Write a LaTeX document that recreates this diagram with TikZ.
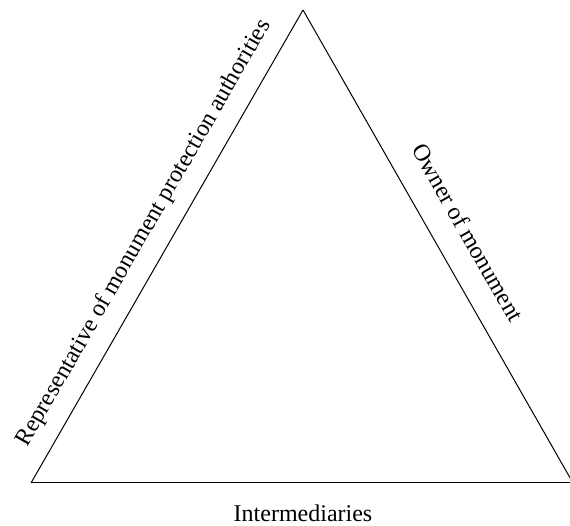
\documentclass[tikz,border=0pt]{standalone}
\usepackage{fontspec}
\setmainfont{Liberation Serif}
\usepackage{tikz}
\usetikzlibrary{calc, positioning}

\begin{document}
\begin{tikzpicture}[x=1pt, y=1pt, line width=1pt,
    role/.style={font=\fontsize{24}{28}\selectfont, inner sep=0pt}]
    \useasboundingbox (0,0) rectangle (570,526);

    % Ecken des Dreiecks
    \coordinate (top) at (303,516);
    \coordinate (left) at (31,43);
    \coordinate (right) at (573,43);

    % Dreieck mit Beschriftung der Seiten
    \draw (left) -- (top)
        node[role, midway, sloped, above=15pt] (authority) {Representative of monument protection authorities};
    \draw (top) -- (right)
        node[role, pos=0.505, sloped, above=24pt] (owner) {Owner of monument};
    \draw (right) -- (left);
    \node[role, anchor=base] (mediators) at (303,4.5) {Intermediaries};
\end{tikzpicture}
\end{document}
